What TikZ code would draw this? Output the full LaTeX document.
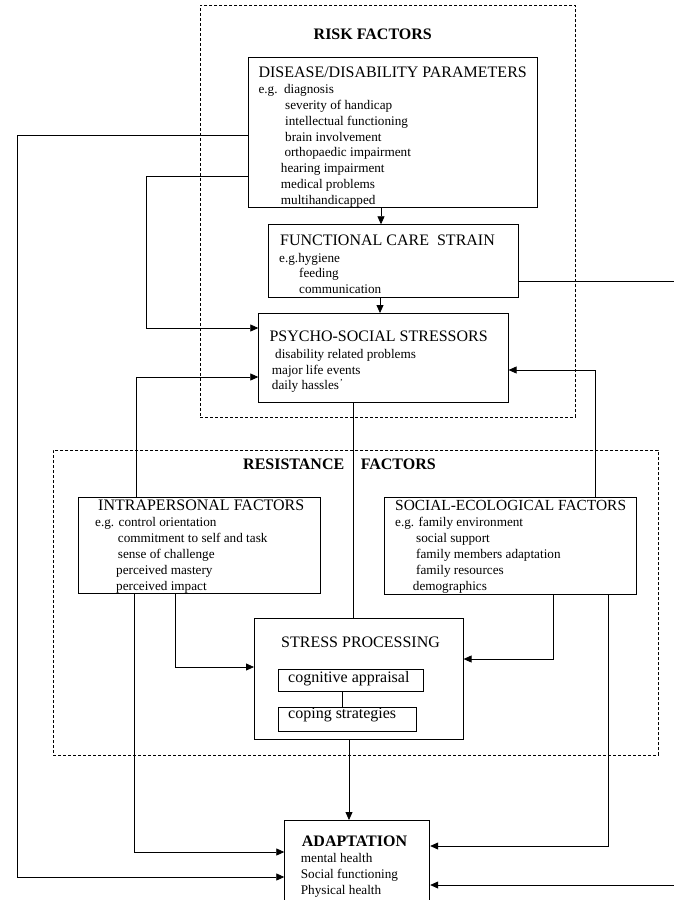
\documentclass[tikz,border=0pt]{standalone}
\usepackage{fontspec}
\setmainfont{Liberation Serif}
\usetikzlibrary{arrows.meta}
\begin{document}
\begin{tikzpicture}[x=1pt,y=-1pt,
  box/.style={draw, line width=0.9pt, inner sep=0pt, anchor=north west},
  frame/.style={draw, line width=0.8pt, dash pattern=on 3pt off 2pt, inner sep=0pt, anchor=north west},
  conn/.style={line width=0.75pt},
  arr/.style={conn, -{Triangle[length=8pt,width=7pt]}},
  ttl/.style={anchor=base west, inner sep=0pt, font=\fontsize{16}{19}\selectfont},
  hdr/.style={anchor=base west, inner sep=0pt, font=\bfseries\fontsize{16}{19}\selectfont},
  lst/.style={anchor=north west, inner sep=0pt, align=left, font=\fontsize{13.2}{15.8}\selectfont},
]
\useasboundingbox (0,0) rectangle (674,900);
\fill[white] (0,0) rectangle (674,900);

% dashed frames
\node[frame, minimum width=375pt, minimum height=412pt] (riskframe) at (200,5) {};
\node[frame, minimum width=605pt, minimum height=305pt] (resframe) at (53,450) {};

% boxes
\node[box, minimum width=288.4pt, minimum height=150.6pt] (dis) at (248.3,56.7) {};
\node[box, minimum width=250pt, minimum height=72.4pt] (func) at (267.7,224.3) {};
\node[box, minimum width=249.4pt, minimum height=88.7pt] (ps) at (258.3,313) {};
\node[box, minimum width=242.3pt, minimum height=96pt] (in) at (77.7,497.3) {};
\node[box, minimum width=252pt, minimum height=97pt] (soc) at (384,497) {};
\node[box, minimum width=208.7pt, minimum height=121pt] (st) at (254,618.3) {};
\node[box, minimum width=145pt, minimum height=21.7pt] (cog) at (278.3,669) {};
\node[box, minimum width=137.4pt, minimum height=23.7pt] (cop) at (278.3,707.3) {};
\node[box, minimum width=145pt, minimum height=90pt] (ad) at (284.3,820) {};

% headings
\node[hdr] (riskt) at (313.5,39.3) {RISK FACTORS};
\node[hdr] (rest) at (243,469.3) {RESISTANCE\hspace{16.5pt}FACTORS};

% titles
\node[ttl] (dist) at (258.3,77) {DISEASE/DISABILITY PARAMETERS};
\node[ttl] (funct) at (280,245) {FUNCTIONAL CARE\ \ STRAIN};
\node[ttl] (pst) at (269.3,341.7) {PSYCHO-SOCIAL STRESSORS};
\node[ttl] (int) at (98,510.7) {INTRAPERSONAL FACTORS};
\node[ttl, font=\fontsize{15.4}{19}\selectfont] (soct) at (395,510.7) {SOCIAL-ECOLOGICAL FACTORS};
\node[ttl] (stt) at (281,647.5) {STRESS PROCESSING};
\node[ttl] (cogt) at (288,682) {cognitive appraisal};
\node[ttl] (copt) at (288,718.3) {coping strategies};
\node[hdr] (adt) at (301.7,846) {ADAPTATION};

% lists
\node[lst] (disl) at (258.3,84.3) {e.g.\hspace{6.5pt}diagnosis\\
\hspace*{26.7pt}severity of handicap\\
\hspace*{26.7pt}intellectual functioning\\
\hspace*{26.7pt}brain involvement\\
\hspace*{26pt}orthopaedic impairment\\
\hspace*{22.4pt}hearing impairment\\
\hspace*{22.4pt}medical problems\\
\hspace*{22.4pt}multihandicapped};
\node[lst, font=\fontsize{13.2}{15.5}\selectfont] (funcl) at (279,253) {e.g.hygiene\\
\hspace*{20pt}feeding\\
\hspace*{20pt}communication};
\node[lst] (psl) at (271.7,349) {\hspace*{3.3pt}disability related problems\\
major life events\\
daily hassles\textsuperscript{\kern1pt'}};
\node[lst, font=\fontsize{13.2}{16.1}\selectfont] (inl) at (95,516.7) {e.g. control orientation\\
\hspace*{22.7pt}commitment to self and task\\
\hspace*{22.7pt}sense of challenge\\
\hspace*{21pt}perceived mastery\\
\hspace*{21pt}perceived impact};
\node[lst, font=\fontsize{13.2}{16.1}\selectfont] (socl) at (395,516.7) {e.g. family environment\\
\hspace*{21pt}social support\\
\hspace*{21pt}family members adaptation\\
\hspace*{21pt}family resources\\
\hspace*{17.7pt}demographics};
\node[lst, font=\fontsize{13.2}{16}\selectfont] (adl) at (300.7,853) {mental health\\
Social functioning\\
Physical health};

% connectors
\draw[arr] (dis.west |- 0,135) -| (17,877) -- (ad.west |- 0,877);
\draw[arr] (dis.west |- 0,176) -| (146,328) -- (ps.west |- 0,328);
\draw[arr] (dis.south -| 381,0) -- (func.north -| 381,0);
\draw[arr] (func.south -| 380,0) -- (ps.north -| 380,0);
\draw[arr] (func.east |- 0,281) -- (700,281) |- (ad.east |- 0,885);
\draw[arr] (in.north -| 136,0) |- (ps.west |- 0,377);
\draw[arr] (soc.north -| 595,0) |- (ps.east |- 0,370);
\draw[conn] (ps.south -| 353,0) -- (st.north -| 353,0);
\draw[arr] (in.south -| 175,0) |- (st.west |- 0,667);
\draw[arr] (in.south -| 134,0) |- (ad.west |- 0,852);
\draw[arr] (soc.south -| 553,0) |- (st.east |- 0,659);
\draw[arr] (soc.south -| 608,0) |- (ad.east |- 0,846);
\draw[arr] (st.south -| 349,0) -- (ad.north -| 349,0);
\draw[conn] (cog.south -| 342,0) -- (cop.north -| 342,0);
\end{tikzpicture}
\end{document}
